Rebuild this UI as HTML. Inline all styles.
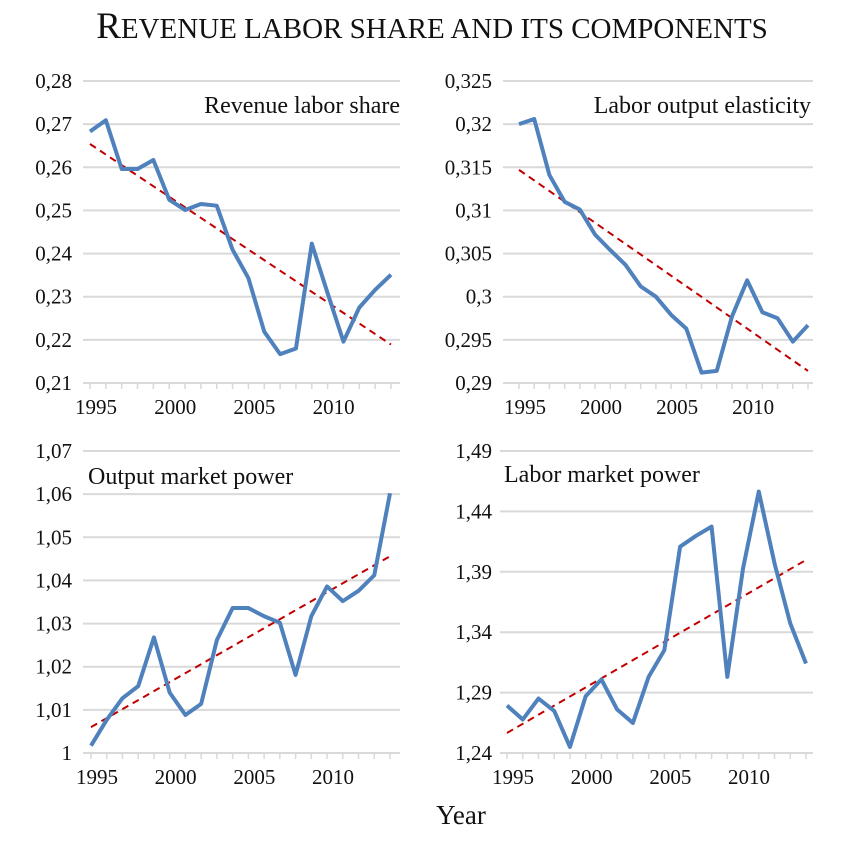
<!DOCTYPE html>
<html><head><meta charset="utf-8"><style>
body{margin:0;background:#fff;width:864px;height:836px;overflow:hidden}
svg text{font-family:"Liberation Serif",serif;fill:#111}
</style></head><body>
<svg id="c" width="864" height="836">
<text x="432" y="38" text-anchor="middle" font-size="37">R<tspan font-size="29">EVENUE LABOR SHARE AND ITS COMPONENTS</tspan></text>
<text x="461" y="824" text-anchor="middle" font-size="27">Year</text>
</svg>
<script>
const years=[1995,1996,1997,1998,1999,2000,2001,2002,2003,2004,2005,2006,2007,2008,2009,2010,2011,2012,2013,2014];
const xTickLabels=["1995","2000","2005","2010"];
const revenueShare=[0.2683,0.2709,0.2596,0.2596,0.2617,0.2525,0.2501,0.2515,0.2511,0.2409,0.2343,0.2219,0.2167,0.2180,0.2423,0.2308,0.2196,0.2275,0.2316,0.2351];
const revenueTrend=[0.2654,0.2189];
const revenueTicks=[0.21,0.22,0.23,0.24,0.25,0.26,0.27,0.28];
const elasticity=[0.3200,0.3206,0.3141,0.3110,0.3101,0.3072,0.3054,0.3037,0.3012,0.3000,0.2979,0.2963,0.2912,0.2914,0.2977,0.3019,0.2982,0.2975,0.2948,0.2967];
const elasticityTrend=[0.3147,0.2914];
const elasticityTicks=[0.29,0.295,0.3,0.305,0.31,0.315,0.32,0.325];
const outputPower=[1.0017,1.0077,1.0127,1.0155,1.0268,1.0140,1.0088,1.0114,1.0262,1.0336,1.0336,1.0317,1.0302,1.0181,1.0317,1.0386,1.0352,1.0376,1.0412,1.0602];
const outputTrend=[1.0060,1.0456];
const outputTicks=[1,1.01,1.02,1.03,1.04,1.05,1.06,1.07];
const laborPower=[1.2793,1.2677,1.2851,1.2748,1.2450,1.2870,1.3009,1.2760,1.2649,1.3030,1.3252,1.4108,1.4197,1.4274,1.3030,1.3929,1.4564,1.3970,1.3473,1.3141];
const laborTrend=[1.2566,1.3998];
const laborTicks=[1.24,1.29,1.34,1.39,1.44,1.49];

const svg=document.getElementById('c');
const NS='http://www.w3.org/2000/svg';
function mk(tag,attrs,parent){const e=document.createElementNS(NS,tag);for(const k in attrs)e.setAttribute(k,attrs[k]);(parent||svg).appendChild(e);return e;}
function fmt(t){let s=String(Math.round(t*1000)/1000);return s.replace('.',',');}

const panels=[
 {key:'revenue',title:'Revenue labor share',vals:revenueShare,trend:revenueTrend,ticks:revenueTicks,x0:83,x1:400,p0:90,p1:391,y0:81,y1:383,labX:72,tx:400,ty:113,anchor:'end'},
 {key:'elasticity',title:'Labor output elasticity',vals:elasticity,trend:elasticityTrend,ticks:elasticityTicks,x0:503,x1:813,p0:519,p1:808,y0:81,y1:383,labX:492,tx:811,ty:113,anchor:'end'},
 {key:'output-power',title:'Output market power',vals:outputPower,trend:outputTrend,ticks:outputTicks,x0:83,x1:400,p0:91,p1:390,y0:451,y1:753,labX:72,tx:88,ty:484,anchor:'start'},
 {key:'labor-power',title:'Labor market power',vals:laborPower,trend:laborTrend,ticks:laborTicks,x0:500,x1:813,p0:507,p1:806,y0:451,y1:753,labX:492,tx:504,ty:482,anchor:'start'}
];
panels.forEach(p=>{
 const g=mk('g',{});
 
 
 const vmin=p.ticks[0],vmax=p.ticks[p.ticks.length-1];
 const ys=v=>p.y1-(v-vmin)/(vmax-vmin)*(p.y1-p.y0);
 const xs=i=>p.p0+i*(p.p1-p.p0)/(years.length-1);
 p.ticks.forEach((t,i)=>{
  const yy=ys(t);
  const l=mk('line',{x1:p.x0,x2:p.x1,y1:yy,y2:yy,stroke:'#d9d9d9','stroke-width':2},g);
  
  
  const tx=mk('text',{x:p.labX,y:yy+7,'text-anchor':'end','font-size':21},g);
  tx.textContent=fmt(t);
  
  
 });
 years.forEach((yr,i)=>{
  const t=mk('line',{x1:xs(i),x2:xs(i),y1:p.y1,y2:p.y1+6,stroke:'#d9d9d9','stroke-width':1.5},g);
  
  
  if(xTickLabels.includes(String(yr))){
   const tx=mk('text',{x:xs(i)+6,y:p.y1+31,'text-anchor':'middle','font-size':21},g);
   tx.textContent=String(yr);
   
   
  }
 });
 const tr=mk('line',{x1:xs(0),x2:xs(years.length-1),y1:ys(p.trend[0]),y2:ys(p.trend[1]),stroke:'#c00000','stroke-width':2,'stroke-dasharray':'7,5'},g);
 
 
 const pl=mk('polyline',{points:p.vals.map((v,i)=>xs(i)+','+ys(v)).join(' '),fill:'none',stroke:'#4f81bd','stroke-width':4,'stroke-linejoin':'round'},g);
 
 
 const bg=mk('text',{x:p.tx,y:p.ty,'text-anchor':p.anchor,'font-size':24},g);
 bg.textContent=p.title;
 
 
});
</script>
</body></html>
